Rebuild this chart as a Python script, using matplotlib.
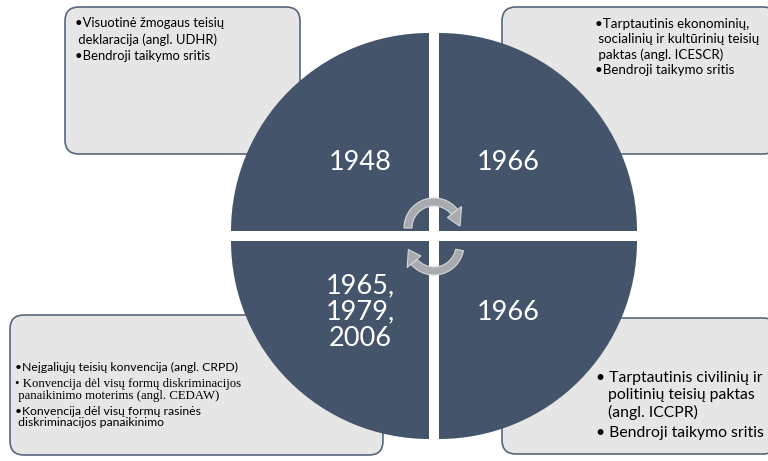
import numpy as np
import matplotlib
matplotlib.use('Agg')
import matplotlib.pyplot as plt
from matplotlib.patches import Wedge, FancyBboxPatch, Polygon

# quadrant labels: top-left, top-right, bottom-left, bottom-right
years = ['1948', '1966', '1965,\n1979,\n2006', '1966']

tl_lines = ['•Visuotinė žmogaus teisių', ' deklaracija (angl. UDHR)', '•Bendroji taikymo sritis']
tr_lines = ['•Tarptautinis ekonominių,', ' socialinių ir kultūrinių teisių', ' paktas (angl. ICESCR)',
            '•Bendroji taikymo sritis']
bl_lines = ['•Neįgaliųjų teisių konvencija (angl. CRPD)',
            '• Konvencija dėl visų formų diskriminacijos',
            ' panaikinimo moterims (angl. CEDAW)',
            '•Konvencija dėl visų formų rasinės',
            ' diskriminacijos panaikinimo']
bl_serif = [False, True, True, False, False]
br_lines = ['• Tarptautinis civilinių ir', '   politinių teisių paktas', '   (angl. ICCPR)',
            '• Bendroji taikymo sritis']

SANS = 'Lato'
SERIF = 'Liberation Serif'
DARK = '#44546A'
BOX = '#E7E6E6'
EDGE = '#56677C'
ARROW = '#A7AAAE'

fig = plt.figure(figsize=(7.68, 4.61), dpi=100)
ax = fig.add_axes([0, 0, 1, 1])
ax.set_xlim(0, 768)
ax.set_ylim(461, 0)
ax.axis('off')

# rounded boxes behind the circle
boxes = [(65, 7, 235, 147), (502, 7, 275, 147), (10, 315, 373, 140), (502, 318, 275, 136)]
for (x, y, w, h) in boxes:
    ax.add_patch(FancyBboxPatch((x, y), w, h, boxstyle='round,pad=0,rounding_size=14',
                                fc=BOX, ec=EDGE, lw=1.2, zorder=1))

# four quarter circles (y axis inverted, so angles are mirrored)
cx, cy, r, g = 434, 236, 198, 5
quads = [((cx - g, cy - g), 180, 270), ((cx + g, cy - g), 270, 360),
         ((cx - g, cy + g), 90, 180), ((cx + g, cy + g), 0, 90)]
label_pos = [(360, 162), (508, 162), (360, 312), (508, 312)]
for (c, t1, t2), lab, (lx, ly) in zip(quads, years, label_pos):
    ax.add_patch(Wedge(c, r, t1, t2, fc=DARK, ec='none', zorder=2))
    ax.text(lx, ly, lab, color='white', fontsize=19.5, family=SANS, ha='center', va='center',
            linespacing=1.05, zorder=3)


def curved_arrow(ccx, ccy, a1, a2, tip_ang):
    rm, hw = 26, 4
    ax.add_patch(Wedge((ccx, ccy), rm + hw, a1, a2, width=2 * hw, fc=ARROW, ec='#D6D8DB',
                       lw=0.8, zorder=4))
    base = a2 if tip_ang > a2 else a1
    b = np.deg2rad(base)
    t = np.deg2rad(tip_ang)
    pts = [(ccx + (rm - 9) * np.cos(b), ccy + (rm - 9) * np.sin(b)),
           (ccx + (rm + 9) * np.cos(b), ccy + (rm + 9) * np.sin(b)),
           (ccx + rm * np.cos(t), ccy + rm * np.sin(t))]
    ax.add_patch(Polygon(pts, closed=True, fc=ARROW, ec='#D6D8DB', lw=0.8, zorder=4))


curved_arrow(434, 228, 180, 322, 356)
curved_arrow(434, 245, 11, 140, 170)

# box texts
for i, s in enumerate(tl_lines):
    ax.text(75, 23 + i * 16.5, s, fontsize=9.4, family=SANS, va='center', color='black', zorder=3)
for i, s in enumerate(tr_lines):
    ax.text(595, 24 + i * 15.4, s, fontsize=9.6, family=SANS, va='center', color='black', zorder=3)
bl_y = [367, 384, 396, 411, 422]
for s, serif, y in zip(bl_lines, bl_serif, bl_y):
    ax.text(15, y, s, fontsize=9.2 if serif else 8.8, family=SERIF if serif else SANS,
            va='center', color='black', zorder=3)
br_y = [378, 395, 412, 433]
for s, y in zip(br_lines, br_y):
    ax.text(596, y, s, fontsize=11.3, family=SANS, va='center', color='black', zorder=3)

plt.savefig('out.png', dpi=100)
